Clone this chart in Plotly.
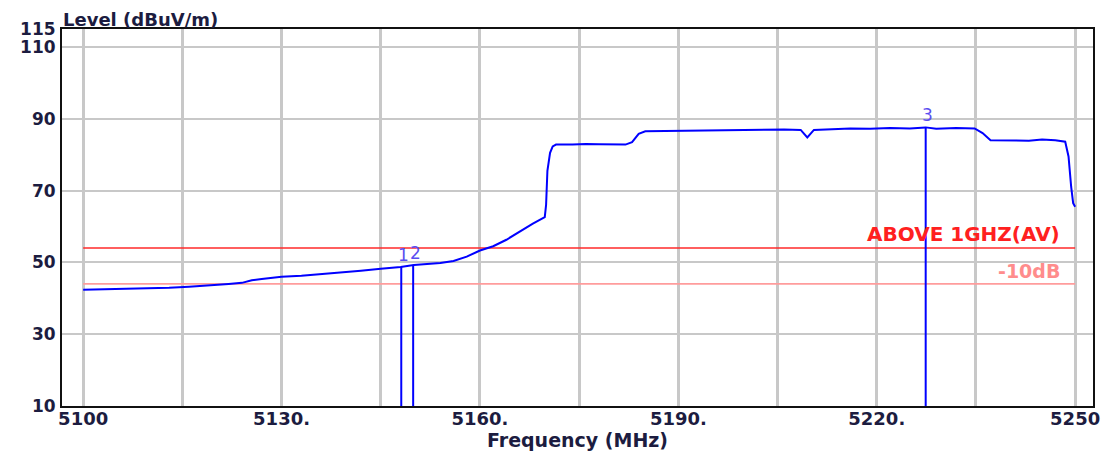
import plotly.graph_objects as go

# ---- data ----
freq_mhz = [5100.0, 5103, 5106, 5110, 5113, 5116, 5119, 5122, 5124, 5125.5,
            5127, 5130, 5133, 5136, 5139, 5142, 5145, 5148, 5150, 5152,
            5154, 5156, 5158, 5160, 5162, 5164, 5166, 5168, 5169.8, 5170.0,
            5170.2, 5170.6, 5171.0, 5171.5, 5174, 5176, 5178, 5180, 5182, 5183,
            5184, 5185, 5188, 5191, 5194, 5197, 5200, 5203, 5206, 5208.5,
            5209.5, 5210.5, 5213, 5216, 5219, 5222, 5225, 5227.4, 5229, 5232,
            5234.8, 5236, 5237.2, 5240, 5243, 5245, 5247, 5248.5, 5249.0, 5249.4,
            5249.7, 5250]
level_dbuv = [42.4, 42.5, 42.6, 42.6, 42.9, 43.2, 43.7, 44.0, 44.3, 45.0,
              45.4, 46.0, 46.3, 46.7, 47.2, 47.7, 48.2, 48.7, 49.3, 49.5,
              49.8, 50.4, 51.6, 53.3, 54.5, 56.3, 58.6, 60.8, 62.6, 66.0,
              75.5, 80.5, 82.3, 82.8, 82.8, 83.0, 82.9, 82.8, 82.8, 83.5,
              85.8, 86.5, 86.6, 86.7, 86.8, 86.9, 87.0, 87.1, 87.0, 86.9,
              84.8, 86.9, 87.1, 87.3, 87.2, 87.4, 87.3, 87.6, 87.2, 87.4,
              87.3, 86.0, 84.0, 84.0, 83.9, 84.2, 84.0, 83.6, 79.5, 71.0,
              66.5, 65.5]

marker_labels = ["1", "2", "3"]
marker_freq = [5148.1, 5149.9, 5227.4]
marker_level = [48.7, 49.3, 87.6]

limit_name = "ABOVE 1GHZ(AV)"
limit_level = 54
margin_name = "-10dB"
margin_level = 44
span_freq = [5100, 5250]

x_grid = [5100, 5115, 5130, 5145, 5160, 5175, 5190, 5205, 5220, 5235, 5250]
x_ticktext = ["5100", "", "5130.", "", "5160.", "", "5190.", "", "5220.", "", "5250"]
y_ticks = [10, 30, 50, 70, 90, 110, 115]
y_ticktext = ["10", "30", "50", "70", "90", "110", "115"]

x_range = [5096.8, 5252.7]
y_range = [10, 115]

# ---- styling ----
FONT = "DejaVu Sans"
TXT = "#1c1c40"
BLUE = "#0000ff"
GRID = "#c8c8c8"

fig = go.Figure()

# limit lines
fig.add_trace(go.Scatter(x=span_freq, y=[limit_level] * 2, mode="lines",
                         line=dict(color="#ff2a2a", width=1.6), hoverinfo="skip"))
fig.add_trace(go.Scatter(x=span_freq, y=[margin_level] * 2, mode="lines",
                         line=dict(color="#ff9c9c", width=1.6), hoverinfo="skip"))

# marker vertical lines
mx, my = [], []
for f, v in zip(marker_freq, marker_level):
    mx += [f, f, None]
    my += [y_range[0], v, None]
fig.add_trace(go.Scatter(x=mx, y=my, mode="lines",
                         line=dict(color=BLUE, width=2), hoverinfo="skip"))

# main trace
fig.add_trace(go.Scatter(x=freq_mhz, y=level_dbuv, mode="lines",
                         line=dict(color=BLUE, width=2, shape="linear"),
                         hoverinfo="skip"))

# marker labels
for lab, f, v in zip(marker_labels, marker_freq, marker_level):
    fig.add_annotation(x=f, y=v, text=lab, showarrow=False, xanchor="center",
                       yanchor="bottom", yshift=0, xshift=2,
                       font=dict(family=FONT, size=17, color="#5a4ef0"))

# limit labels
fig.add_annotation(x=5248, y=limit_level, text=limit_name, showarrow=False,
                   xanchor="right", yanchor="bottom", yshift=0,
                   font=dict(family=FONT, size=20, color="#ff2020", weight="bold"))
fig.add_annotation(x=5248, y=margin_level, text=margin_name, showarrow=False,
                   xanchor="right", yanchor="bottom", yshift=0,
                   font=dict(family=FONT, size=19, color="#ff8c8c", weight="bold"))

# axis titles
fig.add_annotation(xref="paper", yref="paper", x=0, y=1, xanchor="left",
                   yanchor="middle", yshift=10, borderpad=0,
                   text="Level (dBuV/m)", showarrow=False,
                   font=dict(family=FONT, size=18, color=TXT, weight="bold"))
fig.add_annotation(xref="paper", yref="paper", x=0.5, y=0, xanchor="center",
                   yanchor="middle", yshift=-34, text="Frequency (MHz)",
                   showarrow=False,
                   font=dict(family=FONT, size=19, color=TXT, weight="bold"))

# the page body has an 8px margin, so the figure is sized to fit the window
fig.update_layout(
    width=1108, height=444,
    margin=dict(l=54, r=23, t=21, b=46, autoexpand=False),
    paper_bgcolor="white", plot_bgcolor="white",
    showlegend=False,
    xaxis=dict(range=x_range, tickmode="array", tickvals=x_grid, ticktext=x_ticktext,
               showgrid=True, gridcolor=GRID, gridwidth=2.5, zeroline=False,
               showline=True, linecolor="#111111", linewidth=2, mirror=True,
               ticks="", ticklabelstandoff=-5, automargin=False,
               tickfont=dict(family=FONT, size=18, color=TXT, weight="bold")),
    yaxis=dict(range=y_range, tickmode="array", tickvals=y_ticks, ticktext=y_ticktext,
               showgrid=True, gridcolor=GRID, gridwidth=1.6, zeroline=False,
               showline=True, linecolor="#111111", linewidth=2, mirror=True,
               ticks="", ticklabelstandoff=1, automargin=False,
               tickfont=dict(family=FONT, size=17, color=TXT, weight="bold")),
)

fig.write_html("out.html")
